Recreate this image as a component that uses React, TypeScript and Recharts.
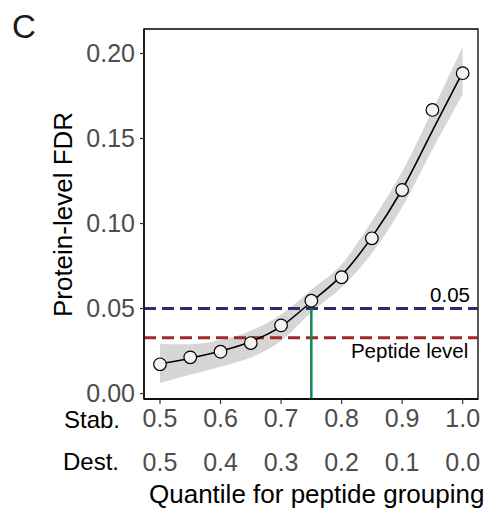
import { ComposedChart, Line, Area, XAxis, YAxis, ReferenceLine, ReferenceArea } from "recharts";

// quantile for peptide grouping (stabilising side) and its destabilising counterpart
const stabTicks = [0.5, 0.6, 0.7, 0.8, 0.9, 1.0];
const destLabels = ["0.5", "0.4", "0.3", "0.2", "0.1", "0.0"];
const yTicks = [0, 0.05, 0.1, 0.15, 0.2];

const quantiles = [0.5, 0.55, 0.6, 0.65, 0.7, 0.75, 0.8, 0.85, 0.9, 0.95, 1.0];
const proteinFdr = [0.0172, 0.0213, 0.0246, 0.0297, 0.0401, 0.0546, 0.0684, 0.0913, 0.1197, 0.1668, 0.1884];
const smoothFit = [0.0175, 0.0208, 0.025, 0.0305, 0.0395, 0.054, 0.0695, 0.092, 0.12, 0.1545, 0.189];
const ciLow = [0.0062, 0.011, 0.0158, 0.0212, 0.031, 0.0478, 0.0625, 0.0825, 0.1095, 0.1435, 0.176];
const ciHigh = [0.0292, 0.029, 0.0315, 0.037, 0.0465, 0.061, 0.076, 0.1015, 0.1305, 0.1665, 0.204];

const fdrCutoff = 0.05;
const peptideLevel = 0.0328;
const chosenQuantile = 0.75;

const X_MIN = 0.4736;
const X_MAX = 1.0253;
const Y_MIN = -0.0032;
const Y_MAX = 0.2144;

const data = quantiles.map((q, i) => ({
  q,
  fdr: proteinFdr[i],
  fit: smoothFit[i],
  ci: [ciLow[i], ciHigh[i]],
}));

const grey = "#4d4d4d";

const XTick = (props: any) => {
  const { x, y, payload } = props;
  const idx = stabTicks.indexOf(payload.value);
  return (
    <g>
      <text x={x} y={y + 21} textAnchor="middle" fill={grey} fontSize={25}>
        {payload.value.toFixed(1)}
      </text>
      <text x={x} y={y + 64.7} textAnchor="middle" fill={grey} fontSize={25}>
        {destLabels[idx]}
      </text>
    </g>
  );
};

export default function App() {
  return (
    <div style={{ position: "absolute", left: 0, top: 0, width: 493, height: 515, background: "#fff", fontFamily: "'Liberation Sans', Arial, sans-serif" }}>
      <ComposedChart width={493} height={515} data={data} margin={{ top: 29, right: 15, bottom: 0, left: 0 }}>
        <XAxis
          dataKey="q"
          type="number"
          domain={[X_MIN, X_MAX]}
          ticks={stabTicks}
          allowDataOverflow
          height={116}
          tickSize={5}
          tick={<XTick />}
          axisLine={{ stroke: "#000", strokeWidth: 1.3 }}
          tickLine={{ stroke: "#333", strokeWidth: 1.2 }}
        />
        <YAxis
          type="number"
          domain={[Y_MIN, Y_MAX]}
          ticks={yTicks}
          allowDataOverflow
          width={144}
          tickSize={4}
          tickMargin={5}
          tickFormatter={(v: number) => v.toFixed(2)}
          tick={{ fill: grey, fontSize: 25 }}
          axisLine={{ stroke: "#000", strokeWidth: 1.3 }}
          tickLine={{ stroke: "#333", strokeWidth: 1.2 }}
        />
        <Area dataKey="ci" type="monotone" fill="#d6d6d6" fillOpacity={1} stroke="none" isAnimationActive={false} activeDot={false} />
        <ReferenceLine y={fdrCutoff} stroke="#2b2d6e" strokeWidth={3} strokeDasharray="12 6" />
        <ReferenceLine y={peptideLevel} stroke="#9e2a2b" strokeWidth={3} strokeDasharray="12 6" />
        <ReferenceLine
          segment={[
            { x: chosenQuantile, y: Y_MIN },
            { x: chosenQuantile, y: fdrCutoff },
          ]}
          stroke="#0f8a4f"
          strokeWidth={2.5}
        />
        <Line dataKey="fit" type="monotone" stroke="#000" strokeWidth={1.6} dot={false} activeDot={false} isAnimationActive={false} />
        <Line
          dataKey="fdr"
          stroke="none"
          dot={{ r: 6.3, fill: "#f3f3ef", stroke: "#000", strokeWidth: 1.2 }}
          activeDot={false}
          isAnimationActive={false}
        />
        <ReferenceArea x1={X_MIN} x2={X_MAX} y1={Y_MIN} y2={Y_MAX} fill="none" fillOpacity={0} stroke="#000" strokeWidth={1.3} />
      </ComposedChart>
      <svg width={493} height={515} style={{ position: "absolute", left: 0, top: 0, pointerEvents: "none" }}>
        <text x={12} y={38} fontSize={33} fill="#1a1a1a">C</text>
        <text x={120} y={428} fontSize={24} textAnchor="end" fill="#000">Stab.</text>
        <text x={119} y={469.5} fontSize={24} textAnchor="end" fill="#000">Dest.</text>
        <text x={71.5} y={214.5} fontSize={26} textAnchor="middle" fill="#000" transform="rotate(-90, 71.5, 214.5)">
          Protein-level FDR
        </text>
        <text x={316.7} y={503.3} fontSize={26} textAnchor="middle" fill="#000">Quantile for peptide grouping</text>
        <text x={470} y={301.7} fontSize={20.5} textAnchor="end" fill="#000">0.05</text>
        <text x={468.3} y={358.3} fontSize={20.5} textAnchor="end" fill="#000">Peptide level</text>
      </svg>
    </div>
  );
}
